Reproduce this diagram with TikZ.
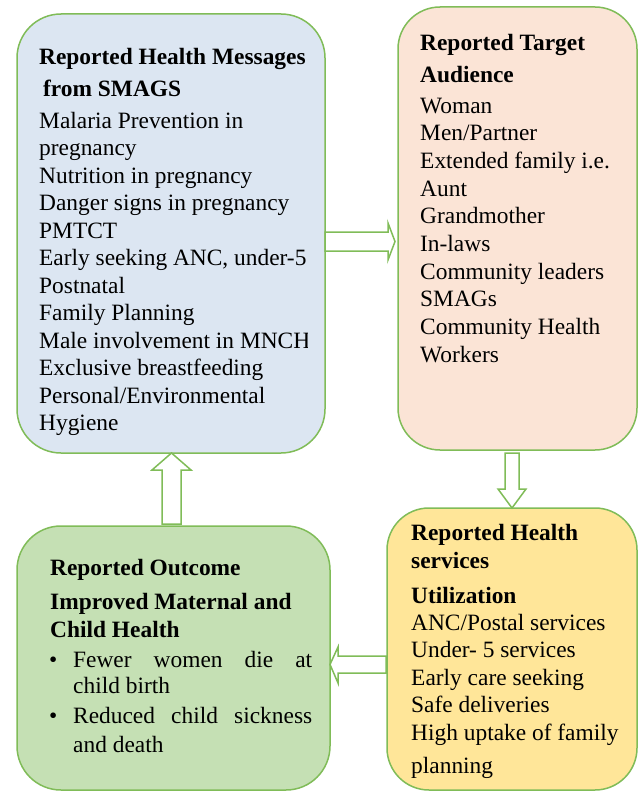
\documentclass[tikz,border=0pt]{standalone}
\usepackage{fontspec}
\setmainfont{Liberation Serif}
\definecolor{bluef}{RGB}{220,230,242}
\definecolor{pinkf}{RGB}{251,228,214}
\definecolor{greenf}{RGB}{197,224,180}
\definecolor{yellowf}{RGB}{255,230,153}
\definecolor{edgec}{RGB}{128,188,88}
\begin{document}
\begin{tikzpicture}[x=1pt,y=-1pt,
  box/.style={draw=edgec, line width=1.5pt, rounded corners=44pt, inner sep=0pt},
  txt/.style={anchor=base west, inner sep=0pt, font=\fontsize{23.4}{27}\selectfont},
  ttl/.style={anchor=base west, inner sep=0pt, font=\fontsize{23.4}{27}\selectfont\bfseries},
  blockarrow/.style={draw=edgec, fill=white, line width=1.5pt, line join=miter}]
\useasboundingbox (0,0) rectangle (638,792);
\fill[white] (0,0) rectangle (638,792);

% boxes
\node[box, fill=bluef,   minimum width=308pt, minimum height=439pt] (msg) at (171,233.5) {};
\node[box, fill=pinkf,   minimum width=239pt, minimum height=443pt, rounded corners=42pt] (aud) at (517.5,228.5) {};
\node[box, fill=greenf,  minimum width=313pt, minimum height=264pt] (out) at (173.5,658) {};
\node[box, fill=yellowf, minimum width=250pt, minimum height=282pt, rounded corners=42pt] (srv) at (512,649) {};

% block arrows (connectors)
\coordinate (a1s) at (msg.east |- 0,241.5);
\draw[blockarrow] (325,232) -- (388,232) -- (388,223) -- (395,241.5) -- (388,260) -- (388,251) -- (325,251) -- cycle;
\coordinate (a2s) at (aud.south);
\draw[blockarrow] (505,453) -- (505,489) -- (498,489) -- (512,508) -- (526,489) -- (519,489) -- (519,453) -- cycle;
\coordinate (a3s) at (srv.west);
\draw[blockarrow] (386,656) -- (338,656) -- (338,647) -- (330,664.5) -- (338,683) -- (338,673) -- (386,673) -- cycle;
\coordinate (a4s) at (out.north);
\draw[blockarrow] (162,524) -- (162,470) -- (152,470) -- (171.5,453) -- (191,470) -- (181,470) -- (181,524) -- cycle;

% box 1 text
\node[ttl] (msgT1) at (39,65) {Reported Health Messages};
\node[ttl] (msgT2) at (43,96) {from SMAGS};
\begin{scope}
\clip (30,100) rectangle (307,445);
\foreach \t [count=\i] in {Malaria Prevention in, pregnancy, Nutrition in pregnancy,
  Danger signs in pregnancy, PMTCT, {Early seeking ANC, under-5}, Postnatal,
  Family Planning, Male involvement in MNCH, Exclusive breastfeeding,
  Personal/Environmental, Hygiene}
  \node[txt] (msg\i) at (39,{128+(\i-1)*27.5}) {\t};
\end{scope}

% box 2 text
\node[ttl] (audT1) at (420,51) {Reported Target};
\node[ttl] (audT2) at (420,82) {Audience};
\foreach \t [count=\i] in {Woman, Men/Partner, Extended family i.e., Aunt, Grandmother,
  In-laws, Community leaders, SMAGs, Community Health, Workers}
  \node[txt] (aud\i) at (420,{113+(\i-1)*27.67}) {\t};

% box 4 text
\node[ttl] (srvT1) at (411,540) {Reported Health};
\node[ttl] (srvT2) at (411,568) {services};
\node[ttl] (srvT3) at (411,603) {Utilization};
\foreach \t [count=\i] in {ANC/Postal services, Under- 5 services, Early care seeking,
  Safe deliveries, High uptake of family}
  \node[txt] (srv\i) at (411,{630+(\i-1)*27.5}) {\t};
\node[txt] (srv6) at (411,773) {planning};

% box 3 text
\node[ttl] (outT1) at (50,575) {Reported Outcome};
\node[ttl] (outT2) at (50,609) {Improved Maternal and};
\node[ttl] (outT3) at (50,637) {Child Health};
\node[txt] (bul1) at (49,667) {•};
\node[txt] (out1) at (73,667) {\makebox[239pt][s]{Fewer women die at}};
\node[txt] (out2) at (73,693) {child birth};
\node[txt] (bul2) at (49,723) {•};
\node[txt] (out3) at (73,723) {\makebox[239pt][s]{Reduced child sickness}};
\node[txt] (out4) at (73,752) {and death};
\end{tikzpicture}
\end{document}
